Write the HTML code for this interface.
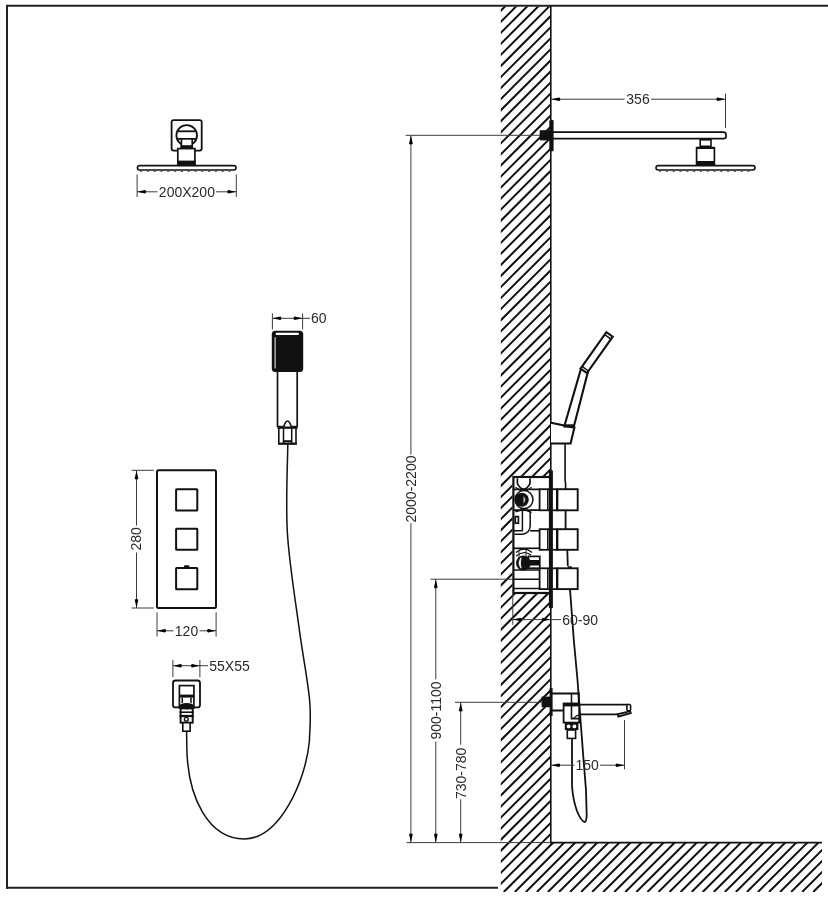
<!DOCTYPE html>
<html><head><meta charset="utf-8"><style>
html,body{margin:0;padding:0;background:#fff;}
svg{display:block;will-change:transform;font-family:"Liberation Sans",sans-serif;}
</style></head><body>
<svg width="828" height="900" viewBox="0 0 828 900">
<rect width="828" height="900" fill="#fff"/>
<line x1="6" y1="5.7" x2="828" y2="5.7" stroke="#222" stroke-width="2" />
<line x1="7" y1="5" x2="7" y2="888.7" stroke="#222" stroke-width="2" />
<line x1="6" y1="887.8" x2="498" y2="887.8" stroke="#222" stroke-width="2" />
<defs><clipPath id="cw"><path d="M500.8,6.5H550.8V842.6H822V892H500.8Z M512.5,476.8V593.5H551V476.8Z" clip-rule="evenodd"/></clipPath></defs>
<path d="M-391.55,892L500.45,0M-380.50,892L511.50,0M-369.45,892L522.55,0M-358.39,892L533.61,0M-347.34,892L544.66,0M-336.29,892L555.71,0M-325.24,892L566.76,0M-314.18,892L577.82,0M-303.13,892L588.87,0M-292.08,892L599.92,0M-281.02,892L610.98,0M-269.97,892L622.03,0M-258.92,892L633.08,0M-247.86,892L644.14,0M-236.81,892L655.19,0M-225.76,892L666.24,0M-214.70,892L677.30,0M-203.65,892L688.35,0M-192.60,892L699.40,0M-181.55,892L710.45,0M-170.49,892L721.51,0M-159.44,892L732.56,0M-148.39,892L743.61,0M-137.33,892L754.67,0M-126.28,892L765.72,0M-115.23,892L776.77,0M-104.17,892L787.83,0M-93.12,892L798.88,0M-82.07,892L809.93,0M-71.02,892L820.98,0M-59.96,892L832.04,0M-48.91,892L843.09,0M-37.86,892L854.14,0M-26.80,892L865.20,0M-15.75,892L876.25,0M-4.70,892L887.30,0M6.36,892L898.36,0M17.41,892L909.41,0M28.46,892L920.46,0M39.51,892L931.51,0M50.57,892L942.57,0M61.62,892L953.62,0M72.67,892L964.67,0M83.73,892L975.73,0M94.78,892L986.78,0M105.83,892L997.83,0M116.88,892L1008.88,0M127.94,892L1019.94,0M138.99,892L1030.99,0M150.04,892L1042.04,0M161.10,892L1053.10,0M172.15,892L1064.15,0M183.20,892L1075.20,0M194.26,892L1086.26,0M205.31,892L1097.31,0M216.36,892L1108.36,0M227.41,892L1119.41,0M238.47,892L1130.47,0M249.52,892L1141.52,0M260.57,892L1152.57,0M271.63,892L1163.63,0M282.68,892L1174.68,0M293.73,892L1185.73,0M304.79,892L1196.79,0M315.84,892L1207.84,0M326.89,892L1218.89,0M337.95,892L1229.95,0M349.00,892L1241.00,0M360.05,892L1252.05,0M371.10,892L1263.10,0M382.16,892L1274.16,0M393.21,892L1285.21,0M404.26,892L1296.26,0M415.32,892L1307.32,0M426.37,892L1318.37,0M437.42,892L1329.42,0M448.47,892L1340.47,0M459.53,892L1351.53,0M470.58,892L1362.58,0M481.63,892L1373.63,0M492.69,892L1384.69,0M503.74,892L1395.74,0M514.79,892L1406.79,0M525.85,892L1417.85,0M536.90,892L1428.90,0M547.95,892L1439.95,0M559.01,892L1451.01,0M570.06,892L1462.06,0M581.11,892L1473.11,0M592.16,892L1484.16,0M603.22,892L1495.22,0M614.27,892L1506.27,0M625.32,892L1517.32,0M636.38,892L1528.38,0M647.43,892L1539.43,0M658.48,892L1550.48,0M669.54,892L1561.54,0M680.59,892L1572.59,0M691.64,892L1583.64,0M702.69,892L1594.69,0M713.75,892L1605.75,0M724.80,892L1616.80,0M735.85,892L1627.85,0M746.91,892L1638.91,0M757.96,892L1649.96,0M769.01,892L1661.01,0M780.07,892L1672.07,0M791.12,892L1683.12,0M802.17,892L1694.17,0M813.22,892L1705.22,0M824.28,892L1716.28,0" stroke="#111" stroke-width="2.0" clip-path="url(#cw)" fill="none"/>
<line x1="550.8" y1="5.7" x2="550.8" y2="842.6" stroke="#111" stroke-width="1.6" />
<line x1="550" y1="842.6" x2="822" y2="842.6" stroke="#111" stroke-width="1.7" />
<line x1="406.6" y1="842.6" x2="551" y2="842.6" stroke="#3c3c3c" stroke-width="1" />
<rect x="137.4" y="165.6" width="98.60" height="4.40" rx="2.2" stroke="#111" stroke-width="1.6" fill="none"/>
<path d="M140,171.5H234" stroke="#666" stroke-width="1.0" fill="none" stroke-dasharray="2.2 4.6"/>
<rect x="171.6" y="120.1" width="30.10" height="30.50" rx="2" stroke="#111" stroke-width="1.8" fill="none"/>
<circle cx="186.7" cy="135.4" r="10.3" stroke="#111" stroke-width="1.8" fill="#fff"/>
<line x1="178" y1="131.3" x2="195.5" y2="131.3" stroke="#111" stroke-width="1.8" />
<line x1="177.5" y1="138.9" x2="196" y2="138.9" stroke="#111" stroke-width="1.8" />
<rect x="181.4" y="138.9" width="10.80" height="8.10" rx="0" stroke="#111" stroke-width="1.6" fill="#fff"/>
<rect x="180.5" y="145.2" width="12.50" height="3.40" rx="0" fill="#111"/>
<rect x="177.8" y="148.6" width="17.10" height="16.60" rx="0" stroke="#111" stroke-width="1.7" fill="#fff"/>
<rect x="177" y="160.6" width="18.70" height="4.40" rx="0" fill="#111"/>
<line x1="137.1" y1="174.4" x2="137.1" y2="197.0" stroke="#3c3c3c" stroke-width="1" />
<line x1="236.3" y1="174.4" x2="236.3" y2="197.0" stroke="#3c3c3c" stroke-width="1" />
<line x1="137.1" y1="191.8" x2="157.5" y2="191.8" stroke="#3c3c3c" stroke-width="1" />
<line x1="216" y1="191.8" x2="236.3" y2="191.8" stroke="#3c3c3c" stroke-width="1" />
<path d="M137.30,191.80L144.90,190.05Q146.10,190.05 146.10,191.80Q146.10,193.55 144.90,193.55Z" fill="#000"/>
<path d="M236.10,191.80L228.50,193.55Q227.30,193.55 227.30,191.80Q227.30,190.05 228.50,190.05Z" fill="#000"/>
<text x="186.9" y="197.0" font-size="14" text-anchor="middle" fill="#2a2a2a">200X200</text>
<line x1="405.6" y1="135.3" x2="541" y2="135.3" stroke="#3c3c3c" stroke-width="1" />
<line x1="725.5" y1="93.6" x2="725.5" y2="128" stroke="#3c3c3c" stroke-width="1" />
<line x1="551" y1="99.2" x2="624.5" y2="99.2" stroke="#3c3c3c" stroke-width="1" />
<line x1="651" y1="99.2" x2="725.5" y2="99.2" stroke="#3c3c3c" stroke-width="1" />
<path d="M551.50,99.20L559.10,97.45Q560.30,97.45 560.30,99.20Q560.30,100.95 559.10,100.95Z" fill="#000"/>
<path d="M725.30,99.20L717.70,100.95Q716.50,100.95 716.50,99.20Q716.50,97.45 717.70,97.45Z" fill="#000"/>
<text x="638" y="104.0" font-size="14" text-anchor="middle" fill="#2a2a2a">356</text>
<path d="M552,132.2H723.5Q726,132.2 726,134.7V136.2Q726,138.6 723.5,138.6H552" stroke="#111" stroke-width="1.7" fill="none" />
<rect x="539.7" y="130.2" width="13.30" height="10.20" rx="0" fill="#111"/>
<rect x="549.3" y="119.9" width="4.30" height="31.40" rx="1" fill="#111"/>
<rect x="700.2" y="139.8" width="10.80" height="6.50" rx="0" stroke="#111" stroke-width="1.6" fill="#fff"/>
<rect x="696.6" y="147.8" width="17.80" height="16.70" rx="0" stroke="#111" stroke-width="1.7" fill="#fff"/>
<rect x="696" y="161" width="19.00" height="3.80" rx="0" fill="#111"/>
<rect x="696" y="146.8" width="19.00" height="2.20" rx="0" fill="#111"/>
<rect x="656.0" y="165.6" width="99.00" height="4.40" rx="2.2" stroke="#111" stroke-width="1.6" fill="none"/>
<path d="M659,171.5H753" stroke="#666" stroke-width="1.0" fill="none" stroke-dasharray="2.2 4.6"/>
<line x1="272.4" y1="313.3" x2="272.4" y2="329.3" stroke="#3c3c3c" stroke-width="1" />
<line x1="302.6" y1="313.3" x2="302.6" y2="329.3" stroke="#3c3c3c" stroke-width="1" />
<line x1="272.4" y1="318.3" x2="310" y2="318.3" stroke="#3c3c3c" stroke-width="1" />
<path d="M272.60,318.30L280.20,316.55Q281.40,316.55 281.40,318.30Q281.40,320.05 280.20,320.05Z" fill="#000"/>
<path d="M302.40,318.30L294.80,320.05Q293.60,320.05 293.60,318.30Q293.60,316.55 294.80,316.55Z" fill="#000"/>
<text x="311" y="323.3" font-size="14" text-anchor="start" fill="#2a2a2a">60</text>
<rect x="271.8" y="330.8" width="31.40" height="41.30" rx="3.5" fill="#111"/>
<rect x="275.7" y="332.7" width="23.20" height="2.30" rx="1" fill="#fff"/>
<rect x="274.4" y="337.2" width="1.50" height="31.20" rx="0" fill="#aaa"/>
<line x1="277.5" y1="372" x2="277.5" y2="427" stroke="#111" stroke-width="1.7" />
<line x1="297.2" y1="372" x2="297.2" y2="427" stroke="#111" stroke-width="1.7" />
<rect x="277.5" y="425.8" width="20.00" height="3.20" rx="0" fill="#111"/>
<path d="M283.8,426.5Q285.5,421 287.5,421Q289.5,421 291.2,426.5" stroke="#111" stroke-width="1.7" fill="#fff" />
<rect x="278.8" y="428" width="17.20" height="15.80" rx="0" stroke="#111" stroke-width="1.6" fill="#fff"/>
<line x1="283.5" y1="428" x2="283.5" y2="443.5" stroke="#111" stroke-width="1.5" />
<line x1="291.7" y1="428" x2="291.7" y2="443.5" stroke="#111" stroke-width="1.5" />
<rect x="283.5" y="440.2" width="8.20" height="2.10" rx="0" fill="#111"/>
<rect x="278" y="442.6" width="18.80" height="2.00" rx="0" fill="#111"/>
<path d="M287.80,444.50C287.73,459.25 285.55,502.63 287.40,533.00C289.25,563.37 295.20,598.87 298.90,626.70C302.60,654.53 307.85,680.95 309.60,700.00C311.35,719.05 309.43,734.17 309.40,741.00" stroke="#111" stroke-width="1.5" fill="none" />
<path d="M309.4,741C306,780 280,838.9 244.3,838.9C210,838.9 187,800 186.8,745L186.6,731.4" stroke="#111" stroke-width="1.5" fill="none" />
<rect x="157.0" y="470.3" width="59.00" height="137.70" rx="1.5" stroke="#111" stroke-width="2" fill="none"/>
<rect x="176.1" y="489.3" width="21.20" height="21.20" rx="0.5" stroke="#111" stroke-width="2" fill="none"/>
<rect x="176.1" y="528.7" width="21.20" height="21.10" rx="0.5" stroke="#111" stroke-width="2" fill="none"/>
<rect x="176.1" y="568.1" width="21.20" height="21.10" rx="0.5" stroke="#111" stroke-width="2" fill="none"/>
<rect x="184" y="565.2" width="5.30" height="3.80" rx="1" fill="#111"/>
<line x1="131.6" y1="470.3" x2="153.8" y2="470.3" stroke="#3c3c3c" stroke-width="1" />
<line x1="131.6" y1="608.0" x2="153.8" y2="608.0" stroke="#3c3c3c" stroke-width="1" />
<line x1="136.5" y1="470.3" x2="136.5" y2="525.5" stroke="#3c3c3c" stroke-width="1" />
<line x1="136.5" y1="552.5" x2="136.5" y2="608.0" stroke="#3c3c3c" stroke-width="1" />
<path d="M136.50,470.60L138.25,478.20Q138.25,479.40 136.50,479.40Q134.75,479.40 134.75,478.20Z" fill="#000"/>
<path d="M136.50,607.70L134.75,600.10Q134.75,598.90 136.50,598.90Q138.25,598.90 138.25,600.10Z" fill="#000"/>
<text x="141.5" y="538.9" font-size="14" text-anchor="middle" fill="#2a2a2a" transform="rotate(-90 141.5 538.9)">280</text>
<line x1="157.0" y1="612.3" x2="157.0" y2="636.6" stroke="#3c3c3c" stroke-width="1" />
<line x1="216.1" y1="612.3" x2="216.1" y2="636.6" stroke="#3c3c3c" stroke-width="1" />
<line x1="157.0" y1="630.8" x2="173.5" y2="630.8" stroke="#3c3c3c" stroke-width="1" />
<line x1="199.5" y1="630.8" x2="216.1" y2="630.8" stroke="#3c3c3c" stroke-width="1" />
<path d="M157.20,630.80L164.80,629.05Q166.00,629.05 166.00,630.80Q166.00,632.55 164.80,632.55Z" fill="#000"/>
<path d="M215.90,630.80L208.30,632.55Q207.10,632.55 207.10,630.80Q207.10,629.05 208.30,629.05Z" fill="#000"/>
<text x="186.5" y="636.2" font-size="14" text-anchor="middle" fill="#2a2a2a">120</text>
<line x1="172.9" y1="660" x2="172.9" y2="677.2" stroke="#3c3c3c" stroke-width="1" />
<line x1="199.9" y1="660" x2="199.9" y2="677.2" stroke="#3c3c3c" stroke-width="1" />
<line x1="172.9" y1="665.7" x2="208" y2="665.7" stroke="#3c3c3c" stroke-width="1" />
<path d="M173.10,665.70L180.70,663.95Q181.90,663.95 181.90,665.70Q181.90,667.45 180.70,667.45Z" fill="#000"/>
<path d="M199.70,665.70L192.10,667.45Q190.90,667.45 190.90,665.70Q190.90,663.95 192.10,663.95Z" fill="#000"/>
<text x="209.3" y="670.8" font-size="14" text-anchor="start" fill="#2a2a2a">55X55</text>
<rect x="173.0" y="680.5" width="27.00" height="26.90" rx="2.5" stroke="#111" stroke-width="1.8" fill="none"/>
<rect x="179.4" y="685.6" width="14.50" height="22.40" rx="0" stroke="#111" stroke-width="1.7" fill="#fff"/>
<rect x="179" y="694.6" width="15.20" height="3.00" rx="0" fill="#111"/>
<line x1="182.3" y1="697.6" x2="182.3" y2="703" stroke="#111" stroke-width="1.5" />
<line x1="191" y1="697.6" x2="191" y2="703" stroke="#111" stroke-width="1.5" />
<ellipse cx="186.6" cy="706.1" rx="7" ry="3.2" fill="#111"/>
<rect x="179.5" y="711.4" width="14.30" height="1.60" rx="0" fill="#111"/>
<rect x="179.5" y="714.9" width="14.30" height="2.30" rx="0" fill="#111"/>
<rect x="180.6" y="708.4" width="12.10" height="14.30" rx="0" stroke="#111" stroke-width="1.9" fill="none"/>
<circle cx="186.3" cy="719.3" r="1.9" fill="#fff" stroke="#111" stroke-width="1.4"/>
<rect x="182.8" y="722.7" width="7.30" height="8.50" rx="0" stroke="#111" stroke-width="1.6" fill="#fff"/>
<line x1="410.9" y1="135.3" x2="410.9" y2="454.7" stroke="#3c3c3c" stroke-width="1" />
<line x1="410.9" y1="523.3" x2="410.9" y2="842.6" stroke="#3c3c3c" stroke-width="1" />
<path d="M410.90,135.60L412.65,143.20Q412.65,144.40 410.90,144.40Q409.15,144.40 409.15,143.20Z" fill="#000"/>
<path d="M410.90,842.30L409.15,834.70Q409.15,833.50 410.90,833.50Q412.65,833.50 412.65,834.70Z" fill="#000"/>
<text x="416.3" y="489.0" font-size="14" text-anchor="middle" fill="#2a2a2a" transform="rotate(-90 416.3 489.0)">2000-2200</text>
<line x1="430.5" y1="579.2" x2="520" y2="579.2" stroke="#3c3c3c" stroke-width="1" />
<line x1="435.8" y1="579.2" x2="435.8" y2="679.4" stroke="#3c3c3c" stroke-width="1" />
<line x1="435.8" y1="741.6" x2="435.8" y2="842.6" stroke="#3c3c3c" stroke-width="1" />
<path d="M435.80,579.50L437.55,587.10Q437.55,588.30 435.80,588.30Q434.05,588.30 434.05,587.10Z" fill="#000"/>
<path d="M435.80,842.30L434.05,834.70Q434.05,833.50 435.80,833.50Q437.55,833.50 437.55,834.70Z" fill="#000"/>
<text x="441.0" y="710.5" font-size="14" text-anchor="middle" fill="#2a2a2a" transform="rotate(-90 441.0 710.5)">900-1100</text>
<line x1="455" y1="702.3" x2="541.6" y2="702.3" stroke="#3c3c3c" stroke-width="1" />
<line x1="460.7" y1="702.3" x2="460.7" y2="744.7" stroke="#3c3c3c" stroke-width="1" />
<line x1="460.7" y1="799.2" x2="460.7" y2="842.6" stroke="#3c3c3c" stroke-width="1" />
<path d="M460.70,702.60L462.45,710.20Q462.45,711.40 460.70,711.40Q458.95,711.40 458.95,710.20Z" fill="#000"/>
<path d="M460.70,842.30L458.95,834.70Q458.95,833.50 460.70,833.50Q462.45,833.50 462.45,834.70Z" fill="#000"/>
<text x="465.9" y="773.4" font-size="14" text-anchor="middle" fill="#2a2a2a" transform="rotate(-90 465.9 773.4)">730-780</text>
<path d="M551,422.8L574.4,427.6L570.6,443.5H551" stroke="#111" stroke-width="2.1" fill="#fff" />
<path d="M564.6,425.2L580.8,369.5L588.2,370.8L573.8,426.8" stroke="#111" stroke-width="2.1" fill="#fff" />
<rect x="563.5" y="424.3" width="11.50" height="3.30" rx="0" fill="#111"/>
<path d="M580.60,368.60L586.97,373.11L612.74,336.71L606.37,332.20Z" stroke="#111" stroke-width="2.1" fill="#fff" />
<line x1="582.10" y1="366.48" x2="588.47" y2="370.99" stroke="#111" stroke-width="1.5" />
<line x1="604.64" y1="334.65" x2="611.00" y2="339.16" stroke="#111" stroke-width="1.5" />
<path d="M565.1,443.5V480L565.6,484V489" stroke="#111" stroke-width="1.6" fill="none" />
<rect x="513.4" y="477.0" width="37.00" height="116.00" rx="0" stroke="#111" stroke-width="2.2" fill="#fff"/>
<rect x="539.6" y="489.2" width="17.30" height="21.10" rx="0" stroke="#111" stroke-width="1.8" fill="#fff"/>
<line x1="547.8" y1="489.2" x2="547.8" y2="510.3" stroke="#111" stroke-width="1.5" />
<rect x="557.4" y="489.2" width="20.30" height="21.10" rx="0" stroke="#111" stroke-width="1.9" fill="#fff"/>
<rect x="539.6" y="529.2" width="17.30" height="20.60" rx="0" stroke="#111" stroke-width="1.8" fill="#fff"/>
<line x1="547.8" y1="529.2" x2="547.8" y2="549.8" stroke="#111" stroke-width="1.5" />
<rect x="557.4" y="529.2" width="20.30" height="20.60" rx="0" stroke="#111" stroke-width="1.9" fill="#fff"/>
<rect x="539.6" y="568.3" width="17.30" height="20.80" rx="0" stroke="#111" stroke-width="1.8" fill="#fff"/>
<line x1="547.8" y1="568.3" x2="547.8" y2="589.1" stroke="#111" stroke-width="1.5" />
<rect x="557.4" y="568.3" width="20.30" height="20.80" rx="0" stroke="#111" stroke-width="1.9" fill="#fff"/>
<rect x="548.9" y="470.2" width="4.00" height="138.00" rx="0.8" fill="#111"/>
<rect x="567.8" y="566.2" width="4.00" height="2.80" rx="0.8" fill="#111"/>
<path d="M517.4,478.2V483.6Q520,488.6 523.7,489.4Q527.4,488.6 530,483.6V478.2" stroke="#111" stroke-width="1.7" fill="#fff" />
<path d="M514,489.3H540M514,510.2H540" stroke="#111" stroke-width="1.7" fill="none" />
<path d="M515.5,487.2Q520,490.6 523.7,491.8Q527.4,490.6 531.5,487.2" stroke="#111" stroke-width="1.2" fill="none" />
<circle cx="524" cy="499.6" r="9.0" stroke="#111" stroke-width="1.5" fill="#fff"/>
<circle cx="521.8" cy="499.8" r="7.0" fill="#111"/>
<path d="M523.2,495.2Q527.6,499.8 523.2,504.4Z" stroke="#111" stroke-width="0.8" fill="#fff" />
<path d="M515.5,511.8Q520,509.8 523.7,509.6Q527.4,510.2 531.5,512.6" stroke="#111" stroke-width="1.6" fill="none" />
<path d="M522.4,511V530.8M530.2,512.5V526Q529.8,533 523,534.2H514.5M514,530.8H523" stroke="#111" stroke-width="1.5" fill="none" />
<path d="M530.2,530.8H540" stroke="#111" stroke-width="1.6" fill="none" />
<rect x="515.3" y="516.6" width="3.10" height="6.60" rx="0" stroke="#111" stroke-width="1.7" fill="none"/>
<path d="M514,548.3H540" stroke="#111" stroke-width="1.7" fill="none" />
<path d="M516,552.5Q524,545.5 532,552.5M516,556Q524,549.8 531,555" stroke="#111" stroke-width="1.3" fill="none" />
<path d="M519,549.5V558M526,549.5V556" stroke="#333" stroke-width="1.0" fill="none" />
<rect x="528.3" y="556.4" width="11.50" height="11.80" rx="0" stroke="#111" stroke-width="1.7" fill="none"/>
<rect x="530" y="560" width="9.00" height="5.50" rx="0" fill="#111"/>
<circle cx="523.4" cy="563" r="7.4" fill="#111"/>
<path d="M521,557.8Q517,563 521,568.2Q519.8,563 521,557.8Z" stroke="#fff" stroke-width="0.8" fill="#fff" />
<path d="M514,570H540M514,579.2H540M514,588.4H540" stroke="#111" stroke-width="1.5" fill="none" />
<path d="M565.6,510.3V529.2M567.3,549.8L567.8,566.2M570,589.1L573.8,640L577.5,680L580.5,720L583.3,756.7L586,790L586.7,815Q586.5,822 584.5,822Q581,821 577,811Q573,800 572,786V738.6" stroke="#111" stroke-width="1.8" fill="none" />
<line x1="512.8" y1="593" x2="512.8" y2="624.8" stroke="#3c3c3c" stroke-width="1" />
<line x1="512.8" y1="619.6" x2="561" y2="619.6" stroke="#3c3c3c" stroke-width="1" />
<path d="M513.00,619.60L520.60,617.85Q521.80,617.85 521.80,619.60Q521.80,621.35 520.60,621.35Z" fill="#000"/>
<path d="M550.60,619.60L543.00,621.35Q541.80,621.35 541.80,619.60Q541.80,617.85 543.00,617.85Z" fill="#000"/>
<text x="562.2" y="624.6" font-size="14" text-anchor="start" fill="#2a2a2a">60-90</text>
<rect x="541.6" y="696.6" width="10.00" height="10.60" rx="0" fill="#111"/>
<rect x="549.6" y="688" width="3.00" height="28.00" rx="0" fill="#111"/>
<path d="M551,693.6H578.8V703M551,710.4H563.6" stroke="#111" stroke-width="2.0" fill="none" />
<line x1="571.5" y1="693.6" x2="571.5" y2="703" stroke="#111" stroke-width="1.5" />
<rect x="563.6" y="703.6" width="15.60" height="19.00" rx="0" stroke="#111" stroke-width="1.8" fill="#fff"/>
<rect x="563" y="702.8" width="16.80" height="3.60" rx="0" fill="#111"/>
<path d="M571.5,706V718.6H579" stroke="#111" stroke-width="1.6" fill="none" />
<path d="M573.5,718.4Q576,715.5 580,714.6" stroke="#111" stroke-width="1.3" fill="none" />
<path d="M579.4,704.6H629" stroke="#111" stroke-width="1.7" fill="none" />
<rect x="626.9" y="704.5" width="3.70" height="6.40" rx="1.3" stroke="#111" stroke-width="1.6" fill="#fff"/>
<path d="M580,714.3H617.5" stroke="#111" stroke-width="1.7" fill="none" />
<path d="M617.6,714.2L630.2,711.2L630.8,713.2L618.4,716.6Z" stroke="#111" stroke-width="1.8" fill="#fff" />
<path d="M619.5,715.2L629.5,712.6" stroke="#222" stroke-width="1.0" fill="none" stroke-dasharray="1.6 1.4"/>
<rect x="564.8" y="722.6" width="13.60" height="7.50" rx="0" fill="#111"/>
<circle cx="568.6" cy="726.4" r="1.9" fill="#fff"/>
<circle cx="574.4" cy="726.4" r="1.9" fill="#fff"/>
<rect x="567.3" y="730" width="8.30" height="8.40" rx="0" stroke="#111" stroke-width="1.6" fill="#fff"/>
<line x1="624.5" y1="720" x2="624.5" y2="769.4" stroke="#3c3c3c" stroke-width="1" />
<line x1="551" y1="765.2" x2="574.5" y2="765.2" stroke="#3c3c3c" stroke-width="1" />
<line x1="600" y1="765.2" x2="624.5" y2="765.2" stroke="#3c3c3c" stroke-width="1" />
<path d="M551.30,765.20L558.90,763.45Q560.10,763.45 560.10,765.20Q560.10,766.95 558.90,766.95Z" fill="#000"/>
<path d="M624.30,765.20L616.70,766.95Q615.50,766.95 615.50,765.20Q615.50,763.45 616.70,763.45Z" fill="#000"/>
<text x="587.2" y="770.2" font-size="14" text-anchor="middle" fill="#2a2a2a">150</text>
</svg></body></html>
